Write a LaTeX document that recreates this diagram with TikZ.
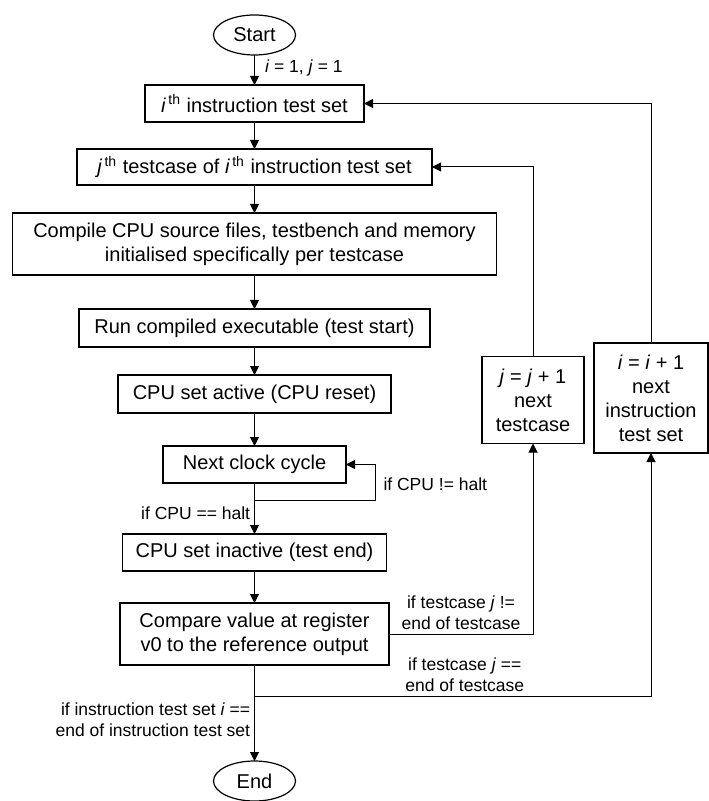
\documentclass[tikz,border=0pt]{standalone}
\usepackage{fontspec}
\setmainfont{Liberation Sans}
\usetikzlibrary{shapes.geometric, arrows.meta, positioning, calc}

\begin{document}
\begin{tikzpicture}[
    node distance=14pt,
    terminal/.style={ellipse, draw, line width=0.6pt, minimum width=41pt, minimum height=20pt, inner sep=0pt, outer sep=0pt, font=\fontsize{10}{12}\selectfont},
    process/.style={rectangle, draw, line width=0.6pt, align=center, inner sep=0pt, outer sep=0pt, minimum height=18.5pt, font=\fontsize{10}{12}\selectfont},
    arrow/.style={-{Triangle[length=4.5pt, width=4.5pt]}, line width=0.5pt},
    cond/.style={font=\fontsize{8.75}{10.5}\selectfont, inner sep=2pt, align=center}
]

\useasboundingbox (-127.25pt,17.5pt) rectangle (226.75pt,-383pt);

\node[terminal] (start) {Start};
\node[process, minimum width=109.5pt, below=15pt of start] (iset) {\textit{i}\textsuperscript{\,th} instruction test set};
\node[process, minimum width=177.5pt, minimum height=18pt, below=13.5pt of iset] (tcase) {\textit{j}\textsuperscript{\,th} testcase of \textit{i}\textsuperscript{\,th} instruction test set};
\node[process, minimum width=242pt, minimum height=31pt, below=of tcase] (compile) {Compile CPU source files, testbench and memory\\initialised specifically per testcase};
\node[process, minimum width=175.5pt, minimum height=19pt, below=17pt of compile] (run) {Run compiled executable (test start)};
\node[process, minimum width=136.5pt, minimum height=19pt, below=of run] (active) {CPU set active (CPU reset)};
\node[process, minimum width=91.5pt, below=16.5pt of active] (clock) {Next clock cycle};
\node[process, minimum width=132pt, below=25.5pt of clock] (inactive) {CPU set inactive (test end)};
\node[process, minimum width=134.5pt, minimum height=31pt, below=16pt of inactive] (compare) {Compare value at register\\v0 to the reference output};
\node[terminal, below=48pt of compare] (end) {End};

% loop boxes on the right
\node[process, minimum width=51pt, minimum height=43.5pt, right=45.5pt of active, yshift=-3pt] (nexttc) {\textit{j} = \textit{j} + 1\\next\\testcase};
\node[process, minimum width=57pt, minimum height=55pt, right=5pt of nexttc, yshift=1pt] (nextset) {\textit{i} = \textit{i} + 1\\next\\instruction\\test set};

\draw[arrow] (start) -- node[cond, right, xshift=3pt, yshift=1pt] (initlbl) {\textit{i} = 1, \textit{j} = 1} (iset);
\draw[arrow] (iset) -- (tcase);
\draw[arrow] (tcase) -- (compile);
\draw[arrow] (compile) -- (run);
\draw[arrow] (run) -- (active);
\draw[arrow] (active) -- (clock);
\draw[arrow] (clock) -- (inactive);
\draw[arrow] (inactive) -- (compare);
\draw[arrow] (compare) -- (end);

% clock cycle loop
\coordinate (halt) at ($(clock.south)+(0,-8.5pt)$);
\draw[arrow] (halt) -- ++(60.25pt,0) |- node[cond, pos=0.25, right, xshift=2pt, yshift=-1pt] (runlbl) {if CPU != halt} (clock.east);
\node[cond, left] (haltlbl) at ($(clock.south)+(0,-15pt)$) {if CPU == halt};

% testcase loop
\draw[arrow] (compare.east) -| node[cond, pos=0.25, above] (tclbl) {if testcase \textit{j} !=\\end of testcase} (nexttc.south);
\draw[arrow] (nexttc.north) |- (tcase.east);

% instruction set loop
\coordinate (last) at ($(compare.south)+(0,-15.5pt)$);
\draw[arrow] (last) -| node[cond, pos=0.25, above, xshift=6pt] (setlbl) {if testcase \textit{j} ==\\end of testcase} (nextset.south);
\draw[arrow] (nextset.north) |- (iset.east);
\node[cond, left, align=right] (endlbl) at ($(last)+(0,-12pt)$) {if instruction test set \textit{i} ==\\end of instruction test set};

\end{tikzpicture}
\end{document}
